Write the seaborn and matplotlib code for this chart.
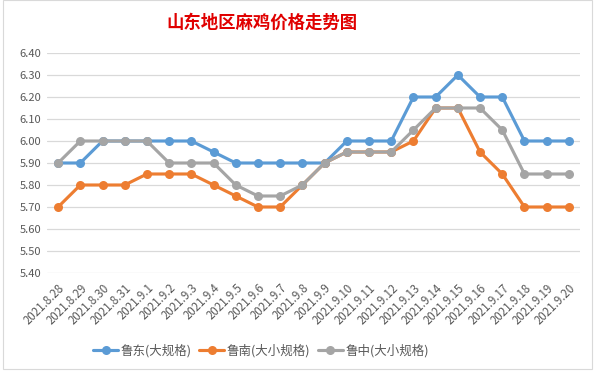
import numpy as np
import pandas as pd
import seaborn as sns
import matplotlib.pyplot as plt
from matplotlib.patches import Rectangle

dates = ["2021.8.28", "2021.8.29", "2021.8.30", "2021.8.31", "2021.9.1", "2021.9.2",
         "2021.9.3", "2021.9.4", "2021.9.5", "2021.9.6", "2021.9.7", "2021.9.8",
         "2021.9.9", "2021.9.10", "2021.9.11", "2021.9.12", "2021.9.13", "2021.9.14",
         "2021.9.15", "2021.9.16", "2021.9.17", "2021.9.18", "2021.9.19", "2021.9.20"]
ludong = [5.90, 5.90, 6.00, 6.00, 6.00, 6.00, 6.00, 5.95, 5.90, 5.90, 5.90, 5.90,
          5.90, 6.00, 6.00, 6.00, 6.20, 6.20, 6.30, 6.20, 6.20, 6.00, 6.00, 6.00]
lunan = [5.70, 5.80, 5.80, 5.80, 5.85, 5.85, 5.85, 5.80, 5.75, 5.70, 5.70, 5.80,
         5.90, 5.95, 5.95, 5.95, 6.00, 6.15, 6.15, 5.95, 5.85, 5.70, 5.70, 5.70]
luzhong = [5.90, 6.00, 6.00, 6.00, 6.00, 5.90, 5.90, 5.90, 5.80, 5.75, 5.75, 5.80,
           5.90, 5.95, 5.95, 5.95, 6.05, 6.15, 6.15, 6.15, 6.05, 5.85, 5.85, 5.85]
series_names = ["鲁东(大规格)", "鲁南(大小规格)", "鲁中(大小规格)"]
colors = ["#5B9BD5", "#ED7D31", "#A5A5A5"]

df = pd.DataFrame({"idx": np.arange(len(dates)),
                   series_names[0]: ludong,
                   series_names[1]: lunan,
                   series_names[2]: luzhong})
long_df = df.melt(id_vars="idx", var_name="series", value_name="price")

sns.set_style("white")
plt.rcParams["font.family"] = ["Noto Sans CJK SC", "DejaVu Sans"]

fig, ax = plt.subplots(figsize=(5.98, 3.73), dpi=100)
fig.subplots_adjust(left=47 / 598, right=580 / 598, top=1 - 53 / 373, bottom=1 - 273 / 373)

sns.lineplot(data=long_df, x="idx", y="price", hue="series", hue_order=series_names,
             palette=colors, marker="o", markersize=6.5, markeredgewidth=0,
             linewidth=2.25, ax=ax, legend=False)

ax.set_xlim(-0.5, len(dates) - 0.5)
ax.set_ylim(5.4, 6.4)
ax.set_yticks(np.arange(5.4, 6.41, 0.1))
ax.set_yticklabels([f"{v:.2f}" for v in np.arange(5.4, 6.41, 0.1)], fontsize=8, color="#595959")
ax.set_xticks(np.arange(len(dates)))
ax.set_xticklabels(dates, rotation=45, ha="right", va="top", rotation_mode="anchor",
                   fontsize=8.3, color="#595959")
ax.tick_params(axis="both", length=0, pad=4)
ax.tick_params(axis="x", pad=6)
ax.set_xlabel("")
ax.set_ylabel("")
ax.yaxis.grid(True, color="#D9D9D9", linewidth=0.9)
ax.set_axisbelow(True)
for s in ax.spines.values():
    s.set_visible(False)

fig.text(262 / 598, 1 - 23 / 373, "山东地区麻鸡价格走势图", ha="center", va="center",
         fontsize=12.5, fontweight="bold", color="#E00000")

handles = [plt.Line2D([], [], color=c, linewidth=2.25, marker="o", markersize=6.5,
                      markeredgewidth=0) for c in colors]
fig.legend(handles, series_names, loc="center", bbox_to_anchor=(261 / 598, 1 - 351 / 373),
           ncol=3, frameon=False, fontsize=9, handlelength=2.0, handletextpad=0.2,
           columnspacing=0.6, labelcolor="#595959")

fig.patches.append(Rectangle((3 / 598, 4 / 373), 589 / 598, 369 / 373, transform=fig.transFigure,
                             fill=False, edgecolor="#D9D9D9", linewidth=0.8))

fig.savefig("out.png", dpi=100, facecolor="white")
